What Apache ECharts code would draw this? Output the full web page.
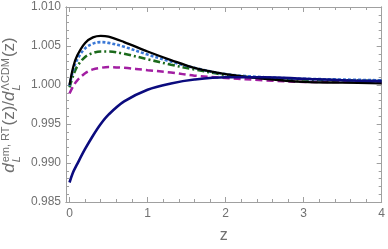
<!DOCTYPE html>
<html><head><meta charset="utf-8">
<script src="https://cdn.jsdelivr.net/npm/echarts@6/dist/echarts.min.js"></script>
<style>html,body{margin:0;padding:0;background:#fff}#c{width:388px;height:249px}</style>
</head><body><div id="c"></div>
<script>
// ---- data ----
const zVals     = [0, 0.05, 0.1, 0.2, 0.3, 0.4, 0.5, 0.7, 1.0, 1.3, 1.6, 2.0, 2.5, 3.0, 3.5, 4.0];
const blackVals = [1.0000, 1.0024, 1.0038, 1.0054, 1.0061, 1.0063, 1.0062, 1.0055, 1.0043, 1.0032, 1.0022, 1.0014, 1.0008, 1.0004, 1.0003, 1.0002];
const blueVals  = [0.9999, 1.0020, 1.0033, 1.0047, 1.0053, 1.0055, 1.0054, 1.0049, 1.0039, 1.0030, 1.0022, 1.0014, 1.0010, 1.0008, 1.0007, 1.0006];
const greenVals = [0.9997, 1.0013, 1.0024, 1.0036, 1.0041, 1.0043, 1.0043, 1.0040, 1.0033, 1.0026, 1.0020, 1.0013, 1.0009, 1.0007, 1.0006, 1.0005];
const magVals   = [0.9989, 0.9999, 1.0006, 1.0015, 1.0020, 1.0022, 1.0023, 1.0022, 1.0019, 1.0016, 1.0012, 1.0009, 1.0006, 1.0004, 1.0004, 1.0003];
const navyVals  = [0.9875, 0.9889, 0.9899, 0.9918, 0.9935, 0.9950, 0.9962, 0.9979, 0.9994, 1.0002, 1.0007, 1.0010, 1.0010, 1.0008, 1.0006, 1.0005];
const xTicks = [0, 1, 2, 3, 4];
const xMinor = [0.2,0.4,0.6,0.8,1.2,1.4,1.6,1.8,2.2,2.4,2.6,2.8,3.2,3.4,3.6,3.8];
const yTicks = [0.985, 0.990, 0.995, 1.000, 1.005, 1.010];
const yMinor = [0.986,0.987,0.988,0.989,0.991,0.992,0.993,0.994,0.996,0.997,0.998,0.999,1.001,1.002,1.003,1.004,1.006,1.007,1.008,1.009];

const pair = vals => zVals.map((z, i) => [z, vals[i]]);
const AX = '#a0a0a0', LB = '#707070', FF = '"Liberation Sans", Arial, sans-serif';

function xa(pos, vals, len, labels, name) {
  return {
    type: 'value', min: -0.045, max: 4, position: pos,
    axisLine: {show: true, onZero: false, lineStyle: {color: AX, width: 1}},
    axisTick: {show: true, inside: true, length: len, customValues: vals, lineStyle: {color: AX}},
    axisLabel: {show: labels, customValues: vals, color: LB, fontSize: 12, fontFamily: FF, margin: 6},
    splitLine: {show: false},
    name: name || '', nameLocation: 'middle', nameGap: 26,
    nameTextStyle: {color: LB, fontSize: 16, fontFamily: FF}
  };
}
function ya(pos, vals, len, labels) {
  return {
    type: 'value', min: 0.985, max: 1.010, position: pos,
    axisLine: {show: true, onZero: false, lineStyle: {color: AX, width: 1}},
    axisTick: {show: true, inside: true, length: len, customValues: vals, lineStyle: {color: AX}},
    axisLabel: {show: labels, customValues: vals, color: LB, fontSize: 12, fontFamily: FF, margin: 5,
      formatter: v => Number(v).toFixed(3)},
    splitLine: {show: false}
  };
}

// ---- y-axis title built as pieces ----
const cv = document.createElement('canvas').getContext('2d');
function w(t, font) { cv.font = font; return cv.measureText(t).width; }
const mainF = '17px ' + FF, itF = 'italic 17px ' + FF, supF = '11px ' + FF, subF = 'italic 11px ' + FF;
const pieces = [
  {t: 'd', f: itF}, {sup: 'em, RT', sub: 'L'}, {t: '(z)/', f: mainF},
  {t: 'd', f: itF}, {sup: 'ΛCDM', sub: 'L'}, {t: '(z)', f: mainF}
];
const kids = []; let cx = 0;
pieces.forEach(p => {
  if (p.t) {
    kids.push({type: 'text', x: cx, y: 0, style: {text: p.t, font: p.f, fill: LB, textVerticalAlign: 'bottom', verticalAlign: 'bottom'}});
    cx += w(p.t, p.f);
  } else {
    cx += 1;
    kids.push({type: 'text', x: cx, y: -7, style: {text: p.sup, font: supF, fill: LB, verticalAlign: 'bottom', textVerticalAlign: 'bottom'}});
    kids.push({type: 'text', x: cx, y: 4, style: {text: p.sub, font: subF, fill: LB, verticalAlign: 'bottom', textVerticalAlign: 'bottom'}});
    cx += Math.max(w(p.sup, supF), w(p.sub, subF)) + 1;
  }
});
const titleLen = cx;

const chart = echarts.init(document.getElementById('c'), null, {renderer: 'canvas'});
chart.setOption({
  animation: false,
  backgroundColor: '#fff',
  grid: {left: 66, right: 6, top: 7, bottom: 46, containLabel: false},
  xAxis: [xa('bottom', xTicks, 5, true, 'z'), xa('bottom', xMinor, 3, false),
          xa('top', xTicks, 5, false), xa('top', xMinor, 3, false)],
  yAxis: [ya('left', yTicks, 5, true), ya('left', yMinor, 3, false),
          ya('right', yTicks, 5, false), ya('right', yMinor, 3, false)],
  graphic: [{type: 'group', x: 18, y: 105 + titleLen / 2, rotation: Math.PI / 2, children: kids}],
  series: [
    {type: 'line', data: pair(magVals), smooth: 0.35, showSymbol: false, lineStyle: {color: '#a21ea2', width: 2.5, type: [7, 4]}},
    {type: 'line', data: pair(greenVals), smooth: 0.35, showSymbol: false, lineStyle: {color: '#1b6a1b', width: 2.6, type: [7, 3, 2, 3]}},
    {type: 'line', data: pair(blueVals), smooth: 0.35, showSymbol: false, lineStyle: {color: '#3a78d6', width: 2.6, type: [3, 2]}},
    {type: 'line', data: pair(blackVals), smooth: 0.35, showSymbol: false, lineStyle: {color: '#000000', width: 2.3}},
    {type: 'line', data: pair(navyVals), smooth: 0.35, showSymbol: false, lineStyle: {color: '#0b0b7e', width: 2.6}}
  ]
});
</script></body></html>
